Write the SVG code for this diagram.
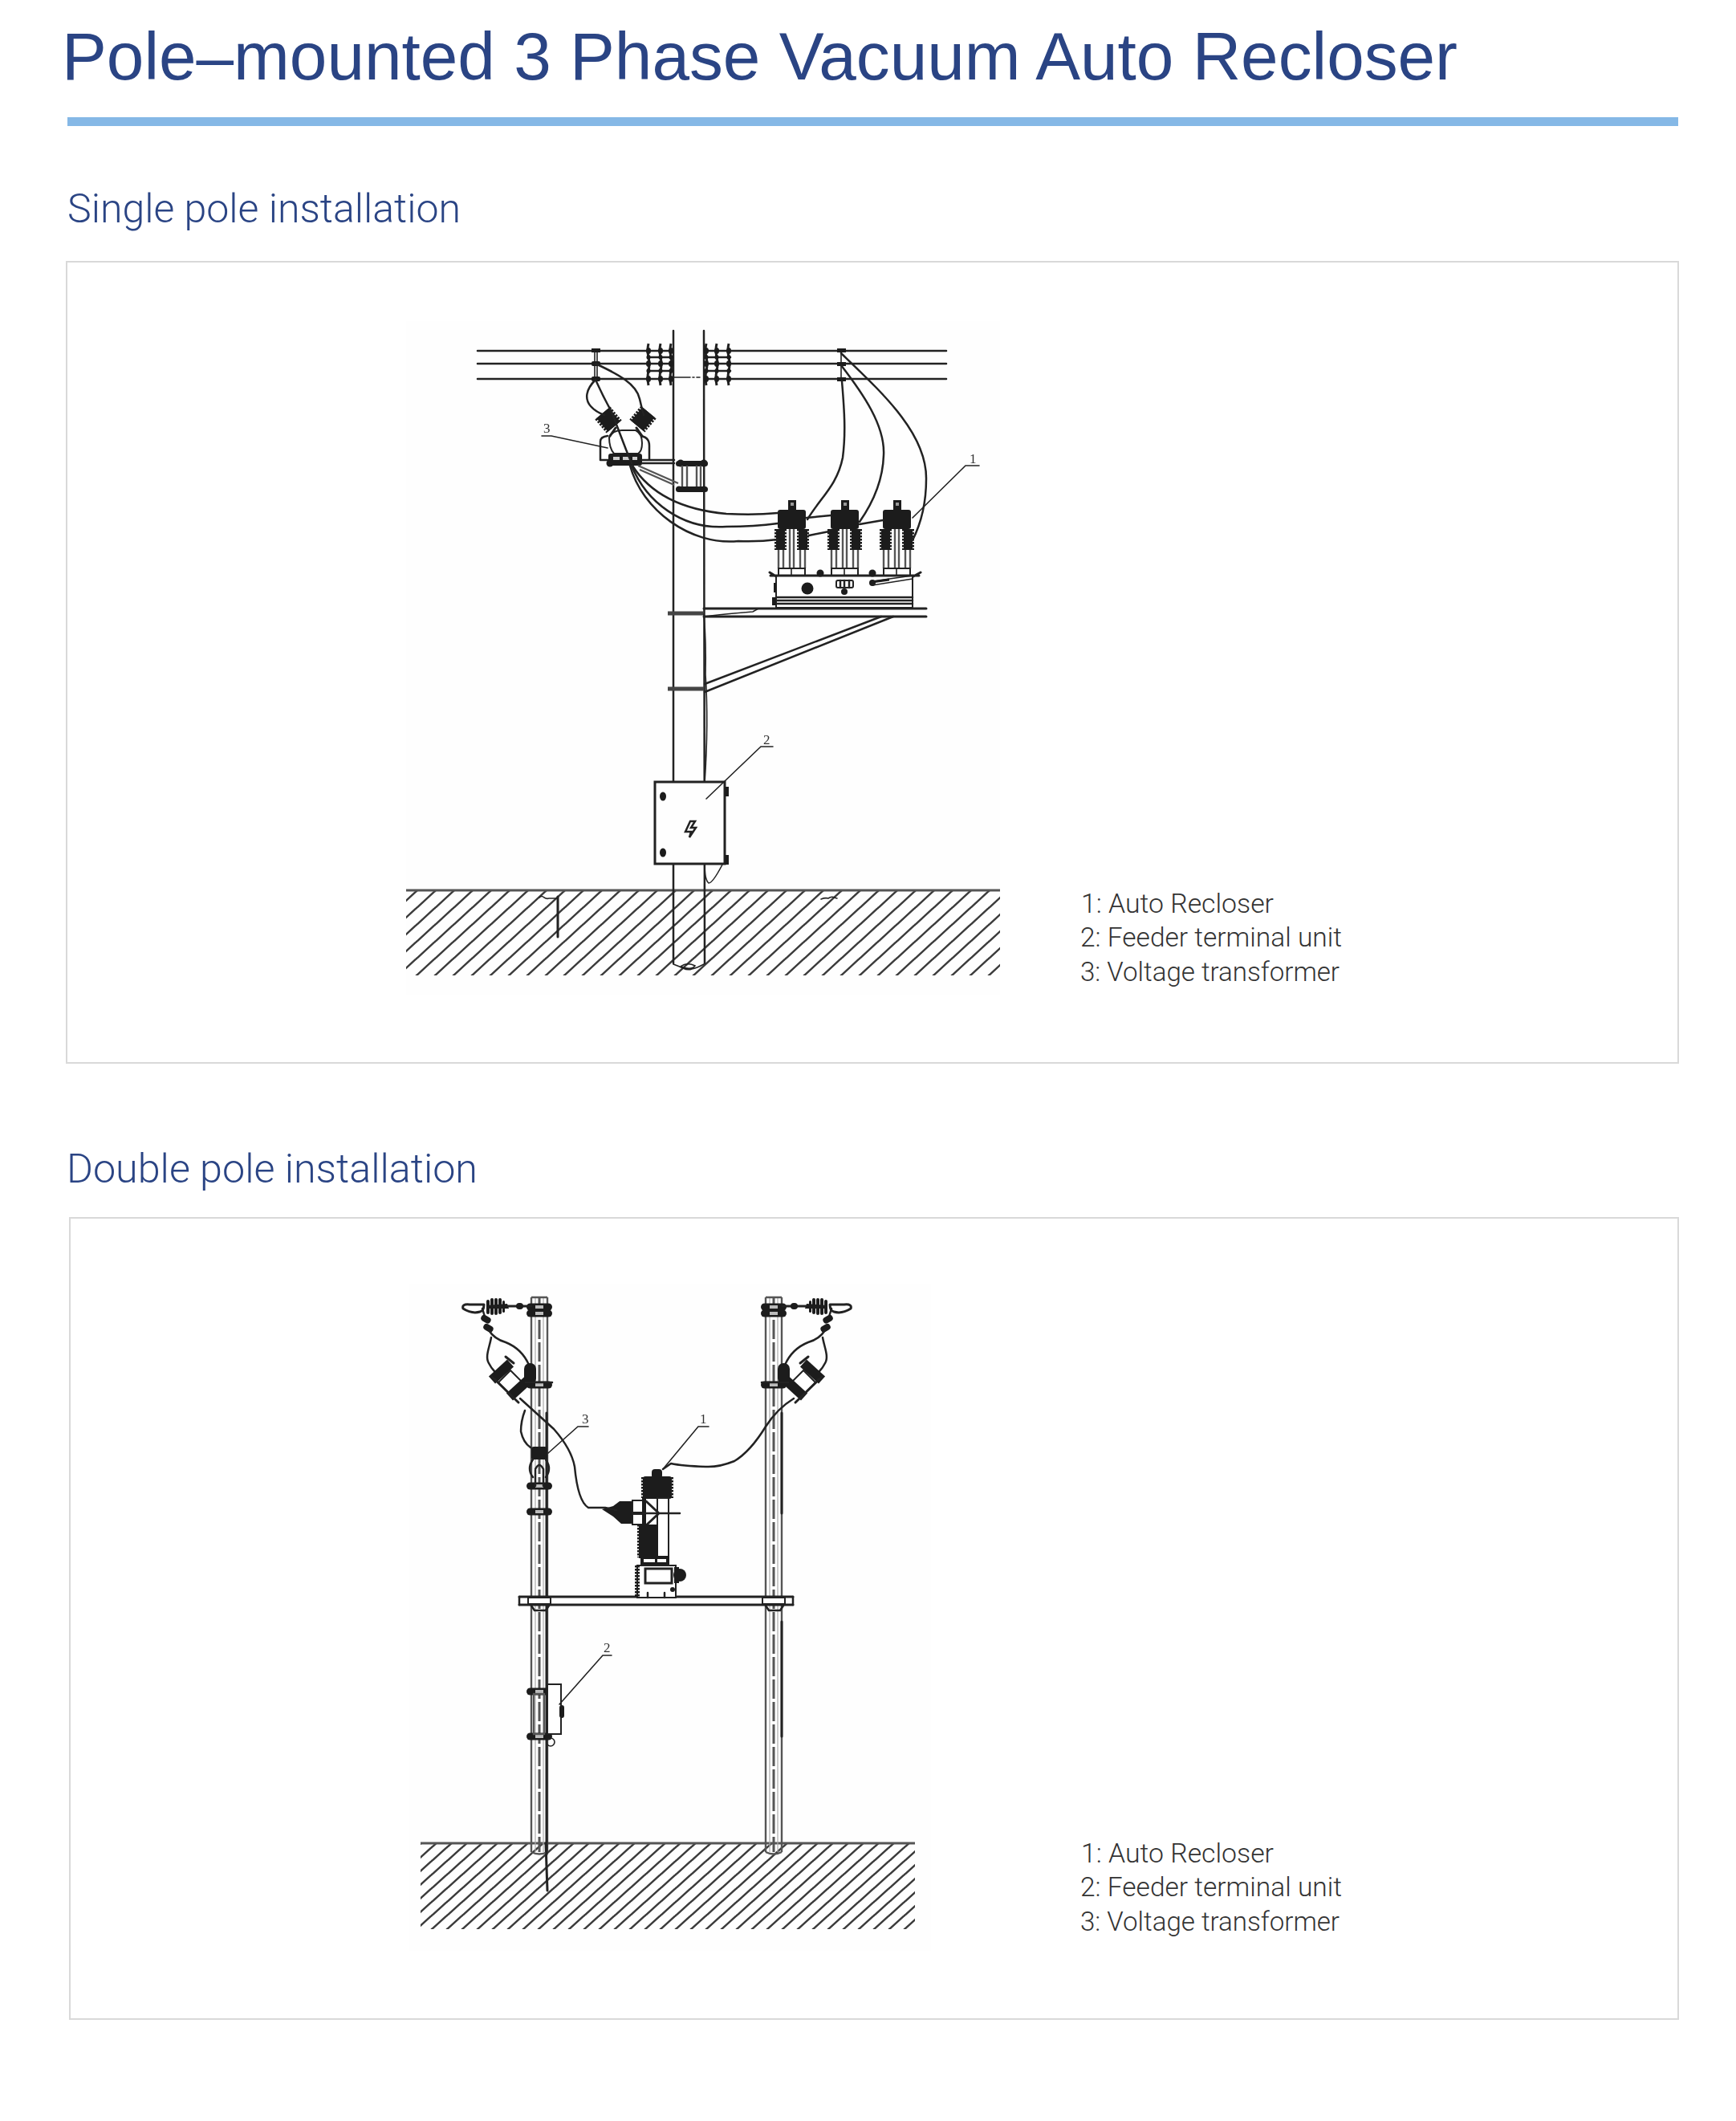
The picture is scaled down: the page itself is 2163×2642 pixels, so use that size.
<svg xmlns="http://www.w3.org/2000/svg" width="2163" height="2642" viewBox="0 0 2163 2642">
<style>
.title{font-family:"Liberation Sans",Arial,sans-serif;font-size:84px;fill:#2a4484}
.section{font-family:Roboto,"Liberation Sans",sans-serif;font-weight:300;font-size:50px;fill:#2a4484}
.list{font-family:Roboto,"Liberation Sans",sans-serif;font-weight:300;font-size:33px;fill:#333}
.tag{font-family:"Liberation Serif",serif;font-size:17px;fill:#333}
.frame{fill:#fff;stroke:#d9d9d9;stroke-width:2}
.l{fill:none;stroke:#222;stroke-width:2.5;stroke-linecap:round;stroke-linejoin:round}
.t{fill:none;stroke:#222;stroke-width:1.6;stroke-linecap:round}
.h{fill:none;stroke:#222;stroke-width:3;stroke-linecap:round}
.g{fill:none;stroke:#555;stroke-width:2.4}
.d{fill:#1c1c1c;stroke:none}
.w{fill:#fff;stroke:#222;stroke-width:2}
.fin{fill:none;stroke:#1c1c1c;stroke-dasharray:2.5 1.5}
</style>
<defs>
<filter id="soft" x="-2%" y="-2%" width="104%" height="104%"><feGaussianBlur stdDeviation="0.6"/></filter>
<pattern id="hatchA" patternUnits="userSpaceOnUse" x="519" y="1110" width="23" height="21">
<path d="M-2,23 L25,-2 M-2,2 L2,-2 M21,23 L25,19" fill="none" stroke="#3a3a3a" stroke-width="2.4"/>
</pattern>
<pattern id="hatchB" patternUnits="userSpaceOnUse" x="538" y="2301" width="19" height="17">
<path d="M-2,19 L21,-2 M-2,2 L2,-2 M17,19 L21,15" fill="none" stroke="#3a3a3a" stroke-width="2.4"/>
</pattern>
<g id="phase">
<line class="g" x1="1" y1="685" x2="1" y2="708"/><line class="g" x1="7" y1="685" x2="7" y2="708"/>
<line class="g" x1="28" y1="685" x2="28" y2="708"/><line class="g" x1="34" y1="685" x2="34" y2="708"/>
<line class="g" x1="15" y1="658" x2="15" y2="708"/><line class="g" x1="20" y1="658" x2="20" y2="708"/>
<rect class="d" x="13" y="623" width="10" height="13"/><rect x="16" y="626" width="4" height="4" fill="#999"/>
<rect class="d" x="0" y="635" width="35" height="24" rx="3"/>
<line class="fin" x1="3.500" y1="659" x2="3.500" y2="685" stroke-width="15"/>
<line class="fin" x1="31.500" y1="659" x2="31.500" y2="685" stroke-width="15"/>
<rect class="d" x="-2" y="659" width="11" height="26"/><rect class="d" x="26" y="659" width="11" height="26"/>
<rect class="w" x="1" y="708" width="33" height="9"/><line class="t" x1="17" y1="708" x2="17" y2="717"/>
</g>
<g id="insGrid">
<path d="M0,-9 q-2,8 0,17 q2,8 0,17 q-2,8 0,18" fill="none" stroke="#222" stroke-width="3"/>
<ellipse class="d" cx="0" cy="0" rx="3" ry="4"/><ellipse class="d" cx="0" cy="8" rx="2.500" ry="3"/><ellipse class="d" cx="0" cy="16" rx="3" ry="4"/><ellipse class="d" cx="0" cy="25" rx="2.500" ry="3"/><ellipse class="d" cx="0" cy="35" rx="3" ry="4"/>
</g>
<g id="vtFin">
<line class="fin" x1="0" y1="-11" x2="0" y2="11" stroke-width="25"/>
<rect class="d" x="-10" y="-11" width="20" height="22"/>
</g>
<g id="polePipe">
<line class="g" x1="0" y1="0" x2="0" y2="691"/>
<line class="g" x1="20" y1="0" x2="20" y2="691"/>
<line x1="10" y1="0" x2="10" y2="691" stroke="#555" stroke-width="3" stroke-dasharray="24 4"/>
<line x1="5" y1="0" x2="5" y2="691" stroke="#aaa" stroke-width="1.2"/>
<line x1="15" y1="0" x2="15" y2="691" stroke="#aaa" stroke-width="1.2"/>
<path d="M0,0 H20 M0,691 q10,5 20,0" class="g"/>
</g>
<g id="clamp">
<rect class="d" x="-16" y="-4.500" width="32" height="9" rx="4.500"/>
<rect x="-5" y="-2" width="10" height="4" fill="#bbb"/>
</g>
<g id="feed">
<path d="M577,1630 q-2,-6 8,-5 H603 q0,8 -5,9 q-10,3 -21,-4z" fill="#fff" stroke="#222" stroke-width="3" stroke-linejoin="round"/>
<rect class="d" x="606" y="1619" width="4" height="18" rx="2"/><rect class="d" x="611" y="1617" width="4" height="21" rx="2"/><rect class="d" x="616" y="1617" width="4" height="21" rx="2"/><rect class="d" x="621" y="1617" width="4" height="20" rx="2"/><rect class="d" x="626" y="1620" width="3" height="15" rx="1.500"/>
<path class="d" d="M606,1626 L632,1624 L634,1630 L606,1630z"/>
<path class="h" d="M632,1627 H662"/>
<rect class="d" x="643" y="1623" width="9" height="8" rx="4"/>
<path class="l" d="M601,1630 L604,1640"/>
<rect class="d" x="599" y="1639" width="13" height="8" rx="4" transform="rotate(30 605 1643)"/>
<rect class="d" x="602" y="1650" width="13" height="8" rx="4" transform="rotate(30 608 1654)"/>
<path class="l" d="M609,1657 Q616,1668 630,1672 Q650,1680 659,1700"/>
<path class="l" d="M612,1666 C610,1678 604,1690 609,1698 Q612,1704 616,1708"/>
<rect class="d" x="653" y="1698" width="15" height="26" rx="7"/>
<path d="M636,1707 L651,1722 L636,1737 L621,1722z" fill="#fff" stroke="#222" stroke-width="2"/>
<line x1="613" y1="1719" x2="636" y2="1698" stroke="#1c1c1c" stroke-width="12"/>
<line x1="635" y1="1740" x2="658" y2="1719" stroke="#1c1c1c" stroke-width="12"/>
<path class="h" d="M612,1714 L646,1747"/>
<path class="h" d="M630,1690 L640,1698"/>
<path class="l" d="M655,1722 L688,1722"/>
</g>
</defs>
<rect width="2163" height="2642" fill="#fff"/>
<g id="heading">
<text class="title" x="77" y="99" textLength="1739" lengthAdjust="spacingAndGlyphs">Pole–mounted 3 Phase Vacuum Auto Recloser</text>
<rect x="84" y="146" width="2007" height="11" fill="#85b8e6"/>
</g>
<g id="section-single">
<text class="section" x="84" y="277" textLength="490" lengthAdjust="spacingAndGlyphs">Single pole installation</text>
<rect class="frame" x="83" y="326" width="2008" height="998"/>
<rect x="506" y="400" width="740" height="840" fill="#fefefe"/>
</g>
<g id="section-double">
<text class="section" x="83" y="1473" textLength="512" lengthAdjust="spacingAndGlyphs">Double pole installation</text>
<rect class="frame" x="87" y="1517" width="2004" height="998"/>
<rect x="510" y="1600" width="650" height="830" fill="#fefefe"/>
</g>

<g id="drawing-single" filter="url(#soft)">
<g id="ground-a">
<rect x="506" y="1109" width="740" height="106" fill="url(#hatchA)"/>
<line x1="506" y1="1109" x2="1246" y2="1109" stroke="#555" stroke-width="3"/>
<path class="h" d="M695,1117 V1167"/>
<path class="t" d="M672,1118 q3,-3 6,0 q3,2 6,1 H695" stroke-width="2.5"/>
<path class="t" d="M1023,1120 q5,-2 9,-1 q4,-3 8,-1 q2,1 3,1"/>
</g>
<g id="pole-a">
<line class="l" x1="839" y1="412" x2="839" y2="1200"/>
<line class="l" x1="877" y1="412" x2="878" y2="1200"/>
<path class="t" d="M839,1201 q8,3 12,5 q6,3 11,1 q6,-1 15,-6 M848,1204 q8,-6 18,-1 q-4,6 -18,1"/>
</g>
<g id="lines">
<path class="l" d="M595,437 H807 M595,453 H807 M595,472 H807 M910,437 H1179 M910,453 H1179 M910,472 H1179"/>
<path class="t" d="M840,470 H860 M863,470 H865 M868,470 H872"/>
<line class="t" x1="741" y1="436" x2="741" y2="473"/><line class="t" x1="744" y1="436" x2="744" y2="473"/>
<line class="t" x1="1048" y1="436" x2="1048" y2="473"/>
<g class="d"><rect x="737" y="434" width="11" height="5"/><rect x="737" y="450" width="11" height="6" rx="2"/><rect x="737" y="469" width="11" height="6" rx="2"/><rect x="1043" y="434" width="11" height="5"/><rect x="1043" y="451" width="11" height="5"/><rect x="1043" y="470" width="11" height="5"/></g>
</g>
<g id="insulators-a">
<path class="l" d="M807,437 H838 M807,445 H838 M807,453 H838 M807,462 H838 M807,472 H838 M878,437 H910 M878,445 H910 M878,453 H910 M878,462 H910 M878,472 H910"/>
<use href="#insGrid" x="808" y="437"/><use href="#insGrid" x="823" y="437"/><use href="#insGrid" x="836" y="437"/>
<use href="#insGrid" x="880" y="437"/><use href="#insGrid" x="893" y="437"/><use href="#insGrid" x="908" y="437"/>
</g>
<g id="voltage-transformer">
<path class="l" d="M809,572 V555 Q809,543 795,543 M748,573 V550 Q748,544 757,543 M748,573 H758"/>
<path class="w" d="M759,545 Q763,536 775,536 H792 Q800,540 800,552 Q800,562 795,565 H765 Q759,558 759,545z"/>
<path class="h" d="M767,533 L760,543 M793,533 L800,543"/>
<use href="#vtFin" transform="translate(758 523) rotate(-40)"/>
<use href="#vtFin" transform="translate(801 522) rotate(40)"/>
<rect class="d" x="758" y="565" width="42" height="15" rx="3"/>
<circle class="d" cx="760" cy="577" r="4.500"/>
<rect x="764" y="569" width="8" height="4" fill="#ccc"/><rect x="776" y="569" width="8" height="4" fill="#ccc"/><rect x="788" y="569" width="6" height="4" fill="#ccc"/>
<path class="l" d="M800,573 H840 M800,577 H840"/>
<rect class="d" x="842" y="574" width="40" height="7" rx="3.500"/><rect class="d" x="842" y="606" width="40" height="7" rx="3.500"/>
<circle class="d" cx="848" cy="577" r="4.500"/><circle class="d" cx="877" cy="577" r="4.500"/><circle class="d" cx="846" cy="609" r="3.500"/><circle class="d" cx="877" cy="609" r="3.500"/>
<path class="g" d="M850,580 V606 M856,580 V606 M868,580 V606 M873,580 V606"/>
<path class="g" d="M795,580 L845,602 M797,585 L840,604"/>
<path class="l" d="M742,453 C770,466 793,478 797,497 Q800,510 802,517"/>
<path class="l" d="M742,473 C730,485 728,497 736,506 Q742,513 753,517"/>
<path class="l" d="M742,473 Q752,495 762,513 L780,560 L787,577"/>
</g>
<g id="auto-recloser-a">
<use href="#phase" x="969"/><use href="#phase" x="1035"/><use href="#phase" x="1100"/>
<rect class="w" x="967" y="717" width="170" height="40"/>
<path class="h" d="M960,717 H1145 M959,713 L967,718 M1147,713 L1138,718"/>
<path class="l" d="M967,744 H1137 M967,748 H1137 M967,752 H1137"/>
<circle class="d" cx="1022" cy="714" r="4.500"/><circle class="d" cx="1087" cy="714" r="4.500"/>
<circle class="d" cx="1006" cy="733" r="7.500"/>
<rect class="w" x="1042" y="723" width="21" height="9" rx="2"/><path class="l" d="M1047,723 V732 M1052,723 V732 M1058,723 V732"/>
<circle class="d" cx="1052" cy="737" r="4"/><circle class="d" cx="1087" cy="726" r="4"/>
<path class="t" d="M1087,724 L1137,717 M1087,729 L1137,721"/>
<rect class="d" x="1088" y="722" width="20" height="3" transform="rotate(-8 1098 723)"/>
<rect class="d" x="964" y="726" width="3" height="12"/><rect class="d" x="962" y="744" width="5" height="10"/>
</g>
<g id="platform">
<line class="h" x1="877" y1="758" x2="1154" y2="758"/>
<line class="h" x1="877" y1="768" x2="1154" y2="768"/>
<line x1="832" y1="764" x2="877" y2="764" stroke="#444" stroke-width="5"/>
<line x1="832" y1="858" x2="877" y2="858" stroke="#444" stroke-width="5"/>
<line class="l" x1="878" y1="852" x2="1098" y2="768"/>
<line class="l" x1="878" y1="862" x2="1113" y2="768"/>
<path class="t" d="M878,768 Q900,765 938,762 L945,758 H1020"/>
<path class="t" d="M877,765 Q880,800 879,840 Q883,900 878,975"/>
</g>
<g id="feeder-terminal-unit-a">
<rect x="816" y="974" width="87" height="102" fill="#fefefe" stroke="#222" stroke-width="3"/>
<ellipse class="d" cx="826" cy="992" rx="4" ry="5.500"/><ellipse class="d" cx="826" cy="1062" rx="4" ry="5.500"/>
<rect class="d" x="903" y="980" width="5" height="12"/><rect class="d" x="903" y="1065" width="5" height="12"/>
<path d="M860,1023 L854,1036 H861 L859,1043 L867,1031 H861 L866,1023z" fill="#fff" stroke="#222" stroke-width="2.500"/>
<path class="t" d="M878,1077 Q878,1096 883,1100 Q888,1100 900,1077"/>
</g>
<g id="connectors-a">
<path class="l" d="M1049,475 C1052,510 1054,540 1050,570 C1043,605 1022,620 1006,647"/>
<path class="l" d="M1048,455 C1075,490 1103,530 1101,567 C1100,600 1085,630 1071,650"/>
<path class="l" d="M1048,440 C1100,490 1155,540 1154,597 C1154,630 1146,655 1137,673"/>
<path class="l" d="M788,580 C810,615 850,635 905,640 Q940,642 969,639"/>
<path class="l" d="M787,580 C805,625 850,660 905,656 Q940,656 969,652 M1005,645 L1035,642 M1071,653 L1100,648"/>
<path class="l" d="M785,580 C800,635 860,680 920,674 Q945,675 969,672 M1008,667 L1033,662"/>
<path class="t" d="M675,543 H687 L757,558" stroke-width="2"/>
<path class="t" d="M1137,645 L1203,580 H1220" stroke-width="2"/>
<path class="t" d="M963,930 H948 L880,995" stroke-width="2"/>
</g>
<text class="tag" x="677" y="539">3</text>
<text class="tag" x="1208" y="577">1</text>
<text class="tag" x="951" y="927">2</text>
</g>

<g id="drawing-double" filter="url(#soft)">
<g id="ground-b">
<rect x="524" y="2296" width="616" height="107" fill="url(#hatchB)"/>
<line x1="524" y1="2296" x2="1140" y2="2296" stroke="#555" stroke-width="3"/>
<path class="h" d="M680,2296 L682,2355"/>
</g>
<g id="pole-left"><use href="#polePipe" x="662" y="1616"/><line class="h" x1="681" y1="1760" x2="681" y2="2310"/></g>
<g id="pole-right"><use href="#polePipe" x="954" y="1616"/><line class="h" x1="974" y1="1760" x2="974" y2="1885"/><line class="h" x1="974" y1="2020" x2="974" y2="2163"/></g>
<g id="crossarms">
<use href="#clamp" x="672" y="1628"/><use href="#clamp" x="672" y="1636"/><use href="#clamp" x="672" y="1725"/>
<use href="#clamp" x="672" y="1851"/><use href="#clamp" x="672" y="1883"/>
<use href="#clamp" x="964" y="1628"/><use href="#clamp" x="964" y="1636"/><use href="#clamp" x="964" y="1725"/>
<use href="#clamp" x="672" y="2107"/><use href="#clamp" x="672" y="2163"/>
</g>
<g id="feed-left"><use href="#feed"/></g>
<g id="feed-right"><use href="#feed" transform="translate(1637,0) scale(-1,1)"/></g>
<g id="voltage-transformer-b">
<rect class="d" x="662" y="1802" width="20" height="16" rx="3"/>
<path class="l" d="M664,1818 Q656,1830 664,1840 M680,1818 Q688,1830 680,1840 M667,1830 Q672,1820 677,1830 V1851 M667,1830 V1851"/>
</g>
<g id="crossbeam">
<path class="h" d="M647,1989 H988 M647,1999 H988"/>
<path class="l" d="M647,1989 V1999 M988,1989 V1999"/>
<rect class="w" x="658" y="1990" width="28" height="8"/>
<rect class="w" x="950" y="1990" width="28" height="8"/>
<path class="l" d="M662,2000 L666,2006 H680 L684,2000 M954,2000 L958,2006 H972 L976,2000"/>
</g>
<g id="auto-recloser-b">
<path class="d" d="M750,1880 L764,1876 L772,1870 H788 V1898 H774 L764,1889z"/>
<rect class="d" x="812" y="1830" width="13" height="12" rx="4"/>
<line class="fin" x1="819" y1="1840" x2="819" y2="1866" stroke-width="40"/>
<rect class="d" x="801" y="1839" width="36" height="28" rx="3"/>
<rect class="w" x="788" y="1869" width="14" height="15"/><rect class="w" x="788" y="1886" width="14" height="13"/>
<rect class="w" x="819" y="1866" width="14" height="74" stroke-width="2.500"/>
<rect class="d" x="800" y="1866" width="5" height="34"/>
<path class="h" d="M805,1870 L820,1884 M805,1900 L820,1886"/>
<line class="l" x1="788" y1="1885" x2="847" y2="1885"/>
<line class="fin" x1="797" y1="1899" x2="797" y2="1940" stroke-width="6"/>
<rect class="d" x="796" y="1899" width="24" height="42"/>
<rect class="d" x="798" y="1938" width="36" height="14"/>
<rect x="802" y="1942" width="14" height="4" fill="#fff"/><rect x="819" y="1942" width="11" height="4" fill="#fff"/>
<rect class="w" x="794" y="1950" width="48" height="40"/>
<rect x="804" y="1954" width="33" height="18" fill="#fff" stroke="#222" stroke-width="3"/>
<line class="fin" x1="794" y1="1950" x2="794" y2="1990" stroke-width="6"/>
<path d="M807,1984 V1990 M828,1984 V1990" class="l"/>
<circle class="d" cx="847" cy="1962" r="8"/>
<rect class="d" x="840" y="1952" width="6" height="20"/>
<circle class="d" cx="838" cy="1980" r="3"/>
</g>
<g id="feeder-terminal-unit-b">
<rect class="w" x="682" y="2098" width="17" height="62" stroke-width="2.500"/>
<rect class="d" x="697" y="2124" width="6" height="16" rx="3"/>
<rect class="g" x="665" y="2110" width="13" height="50"/>
<circle cx="686" cy="2170" r="5" fill="none" stroke="#222" stroke-width="1.600"/>
</g>
<g id="connectors-b">
<path class="l" d="M648,1742 L690,1780 Q712,1805 716,1827 Q720,1870 733,1878 H754 L768,1881"/>
<path class="l" d="M654,1757 Q649,1770 649,1783 Q652,1797 661,1803"/>
<path class="l" d="M989,1742 Q968,1755 954,1777 Q935,1808 915,1820 Q895,1828 879,1827 Q850,1826 836,1823 L826,1830"/>
<path class="t" d="M683,1810 L720,1777 H733" stroke-width="2"/>
<path class="t" d="M826,1830 L870,1777 H883" stroke-width="2"/>
<path class="t" d="M697,2123 L751,2062 H762" stroke-width="2"/>
</g>
<text class="tag" x="725" y="1773">3</text>
<text class="tag" x="872" y="1773">1</text>
<text class="tag" x="752" y="2058">2</text>
</g>

<g id="legend-single">
<text class="list" x="1347" y="1137" textLength="240" lengthAdjust="spacingAndGlyphs">1: Auto Recloser</text>
<text class="list" x="1346" y="1179" textLength="326" lengthAdjust="spacingAndGlyphs">2: Feeder terminal unit</text>
<text class="list" x="1346" y="1222" textLength="323" lengthAdjust="spacingAndGlyphs">3: Voltage transformer</text>
</g>
<g id="legend-double">
<text class="list" x="1347" y="2320" textLength="240" lengthAdjust="spacingAndGlyphs">1: Auto Recloser</text>
<text class="list" x="1346" y="2362" textLength="326" lengthAdjust="spacingAndGlyphs">2: Feeder terminal unit</text>
<text class="list" x="1346" y="2405" textLength="323" lengthAdjust="spacingAndGlyphs">3: Voltage transformer</text>
</g>
</svg>
